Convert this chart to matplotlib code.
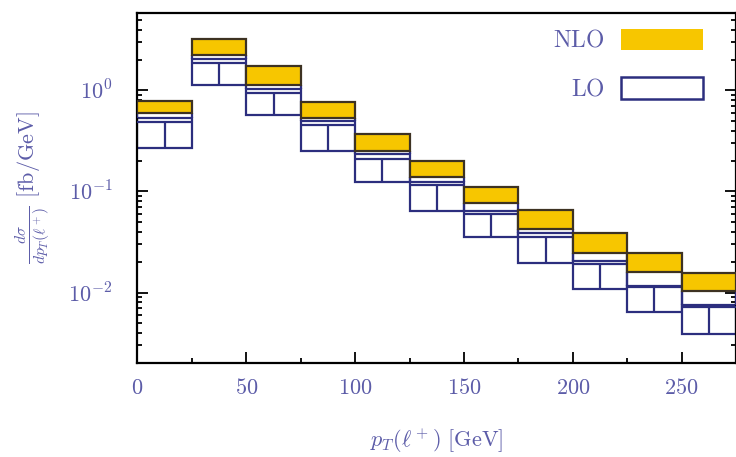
import numpy as np
import matplotlib
matplotlib.use("Agg")
import matplotlib.pyplot as plt
from matplotlib.patches import Rectangle

# pT(l+) bins, 25 GeV wide
bin_lo = [0, 25, 50, 75, 100, 125, 150, 175, 200, 225, 250]
bin_w = 25

# NLO scale band (upper / lower edge), fb/GeV
nlo_hi = [0.787, 3.20, 1.75, 0.761, 0.367, 0.200, 0.1116, 0.0656, 0.0388, 0.0248, 0.0156]
nlo_lo = [0.592, 2.25, 1.13, 0.534, 0.249, 0.140, 0.0775, 0.0422, 0.0248, 0.0161, 0.01035]

# LO scale band and central value, fb/GeV
lo_hi = [0.540, 2.07, 1.035, 0.499, 0.235, 0.125, 0.0641, 0.0386, 0.0205, 0.01173, 0.00752]
lo_c = [0.488, 1.85, 0.945, 0.455, 0.212, 0.116, 0.0598, 0.0352, 0.0191, 0.01133, 0.00718]
lo_lo = [0.270, 1.13, 0.572, 0.252, 0.125, 0.0646, 0.0352, 0.0195, 0.01076, 0.00641, 0.00388]

xtick_vals = [0, 50, 100, 150, 200, 250]
xtick_labels = [r"$0$", r"$50$", r"$100$", r"$150$", r"$200$", r"$250$"]
ytick_vals = [1, 0.1, 0.01]
ytick_labels = [r"$10^{0}$", r"$10^{-1}$", r"$10^{-2}$"]

gold = "#f7c600"
gold_edge = "#3d3222"
navy = "#2c2e7e"
txt = "#5c5ca8"

plt.rcParams["mathtext.fontset"] = "cm"
plt.rcParams["font.family"] = ["DejaVu Serif"]

fig = plt.figure(figsize=(7.36, 4.57), dpi=100)
ax = fig.add_axes([0.1868, 0.2064, 0.8132, 0.7652])

x = np.array(bin_lo, dtype=float)
lo_hi_a, lo_c_a, lo_lo_a = np.array(lo_hi), np.array(lo_c), np.array(lo_lo)
nlo_hi_a, nlo_lo_a = np.array(nlo_hi), np.array(nlo_lo)

# LO boxes with central line and half-divider
ax.bar(x, lo_hi_a - lo_lo_a, bottom=lo_lo_a, width=bin_w, align="edge",
       facecolor="white", edgecolor=navy, linewidth=1.6, zorder=2)
ax.hlines(lo_c_a, x, x + bin_w, colors=navy, linewidth=1.6, zorder=3)
ax.vlines(x + bin_w / 2, lo_lo_a, lo_c_a, colors=navy, linewidth=1.6, zorder=3)
# bin edges joining the LO box to the NLO band
ax.vlines(x, lo_hi_a, nlo_lo_a, colors=navy, linewidth=1.6, zorder=3)
ax.vlines(x + bin_w, lo_hi_a, nlo_lo_a, colors=navy, linewidth=1.6, zorder=3)

# NLO bands
ax.bar(x, nlo_hi_a - nlo_lo_a, bottom=nlo_lo_a, width=bin_w, align="edge",
       facecolor=gold, edgecolor=gold_edge, linewidth=1.6, zorder=4)

ax.set_yscale("log")
ax.set_xlim(0, 275)
ax.set_ylim(0.00202, 5.85)

ax.set_xticks(xtick_vals)
ax.set_xticklabels(xtick_labels)
ax.set_xticks([25, 75, 125, 175, 225], minor=True)
ax.set_yticks(ytick_vals)
ax.set_yticklabels(ytick_labels)

ax.tick_params(which="both", direction="in", top=False, right=True,
               labelcolor=txt, labelsize=16, width=1.3, color="black")
ax.tick_params(which="major", length=8)
ax.tick_params(axis="x", which="major", pad=10)
ax.tick_params(axis="y", which="major", pad=18)
ax.tick_params(which="minor", length=3.5)
for s in ax.spines.values():
    s.set_linewidth(1.6)

ax.set_xlabel(r"$p_T(\ell^+)$ $[\mathrm{GeV}]$", color=txt, fontsize=16, labelpad=20)
ax.set_ylabel(r"$\frac{d\sigma}{dp_T(\ell^+)}$ $[\mathrm{fb/GeV}]$", color=txt,
              fontsize=16, labelpad=12)

# key
ax.add_patch(Rectangle((0.8075, 0.894), 0.137, 0.061, transform=ax.transAxes,
                       facecolor=gold, edgecolor="none", zorder=5))
ax.add_patch(Rectangle((0.8075, 0.754), 0.137, 0.064, transform=ax.transAxes,
                       facecolor="white", edgecolor=navy, linewidth=1.8, zorder=5))
ax.text(0.78, 0.922, r"$\mathrm{NLO}$", transform=ax.transAxes, ha="right",
        va="center", color=txt, fontsize=17)
ax.text(0.78, 0.784, r"$\mathrm{LO}$", transform=ax.transAxes, ha="right",
        va="center", color=txt, fontsize=17)

fig.savefig("out.png", dpi=100)
